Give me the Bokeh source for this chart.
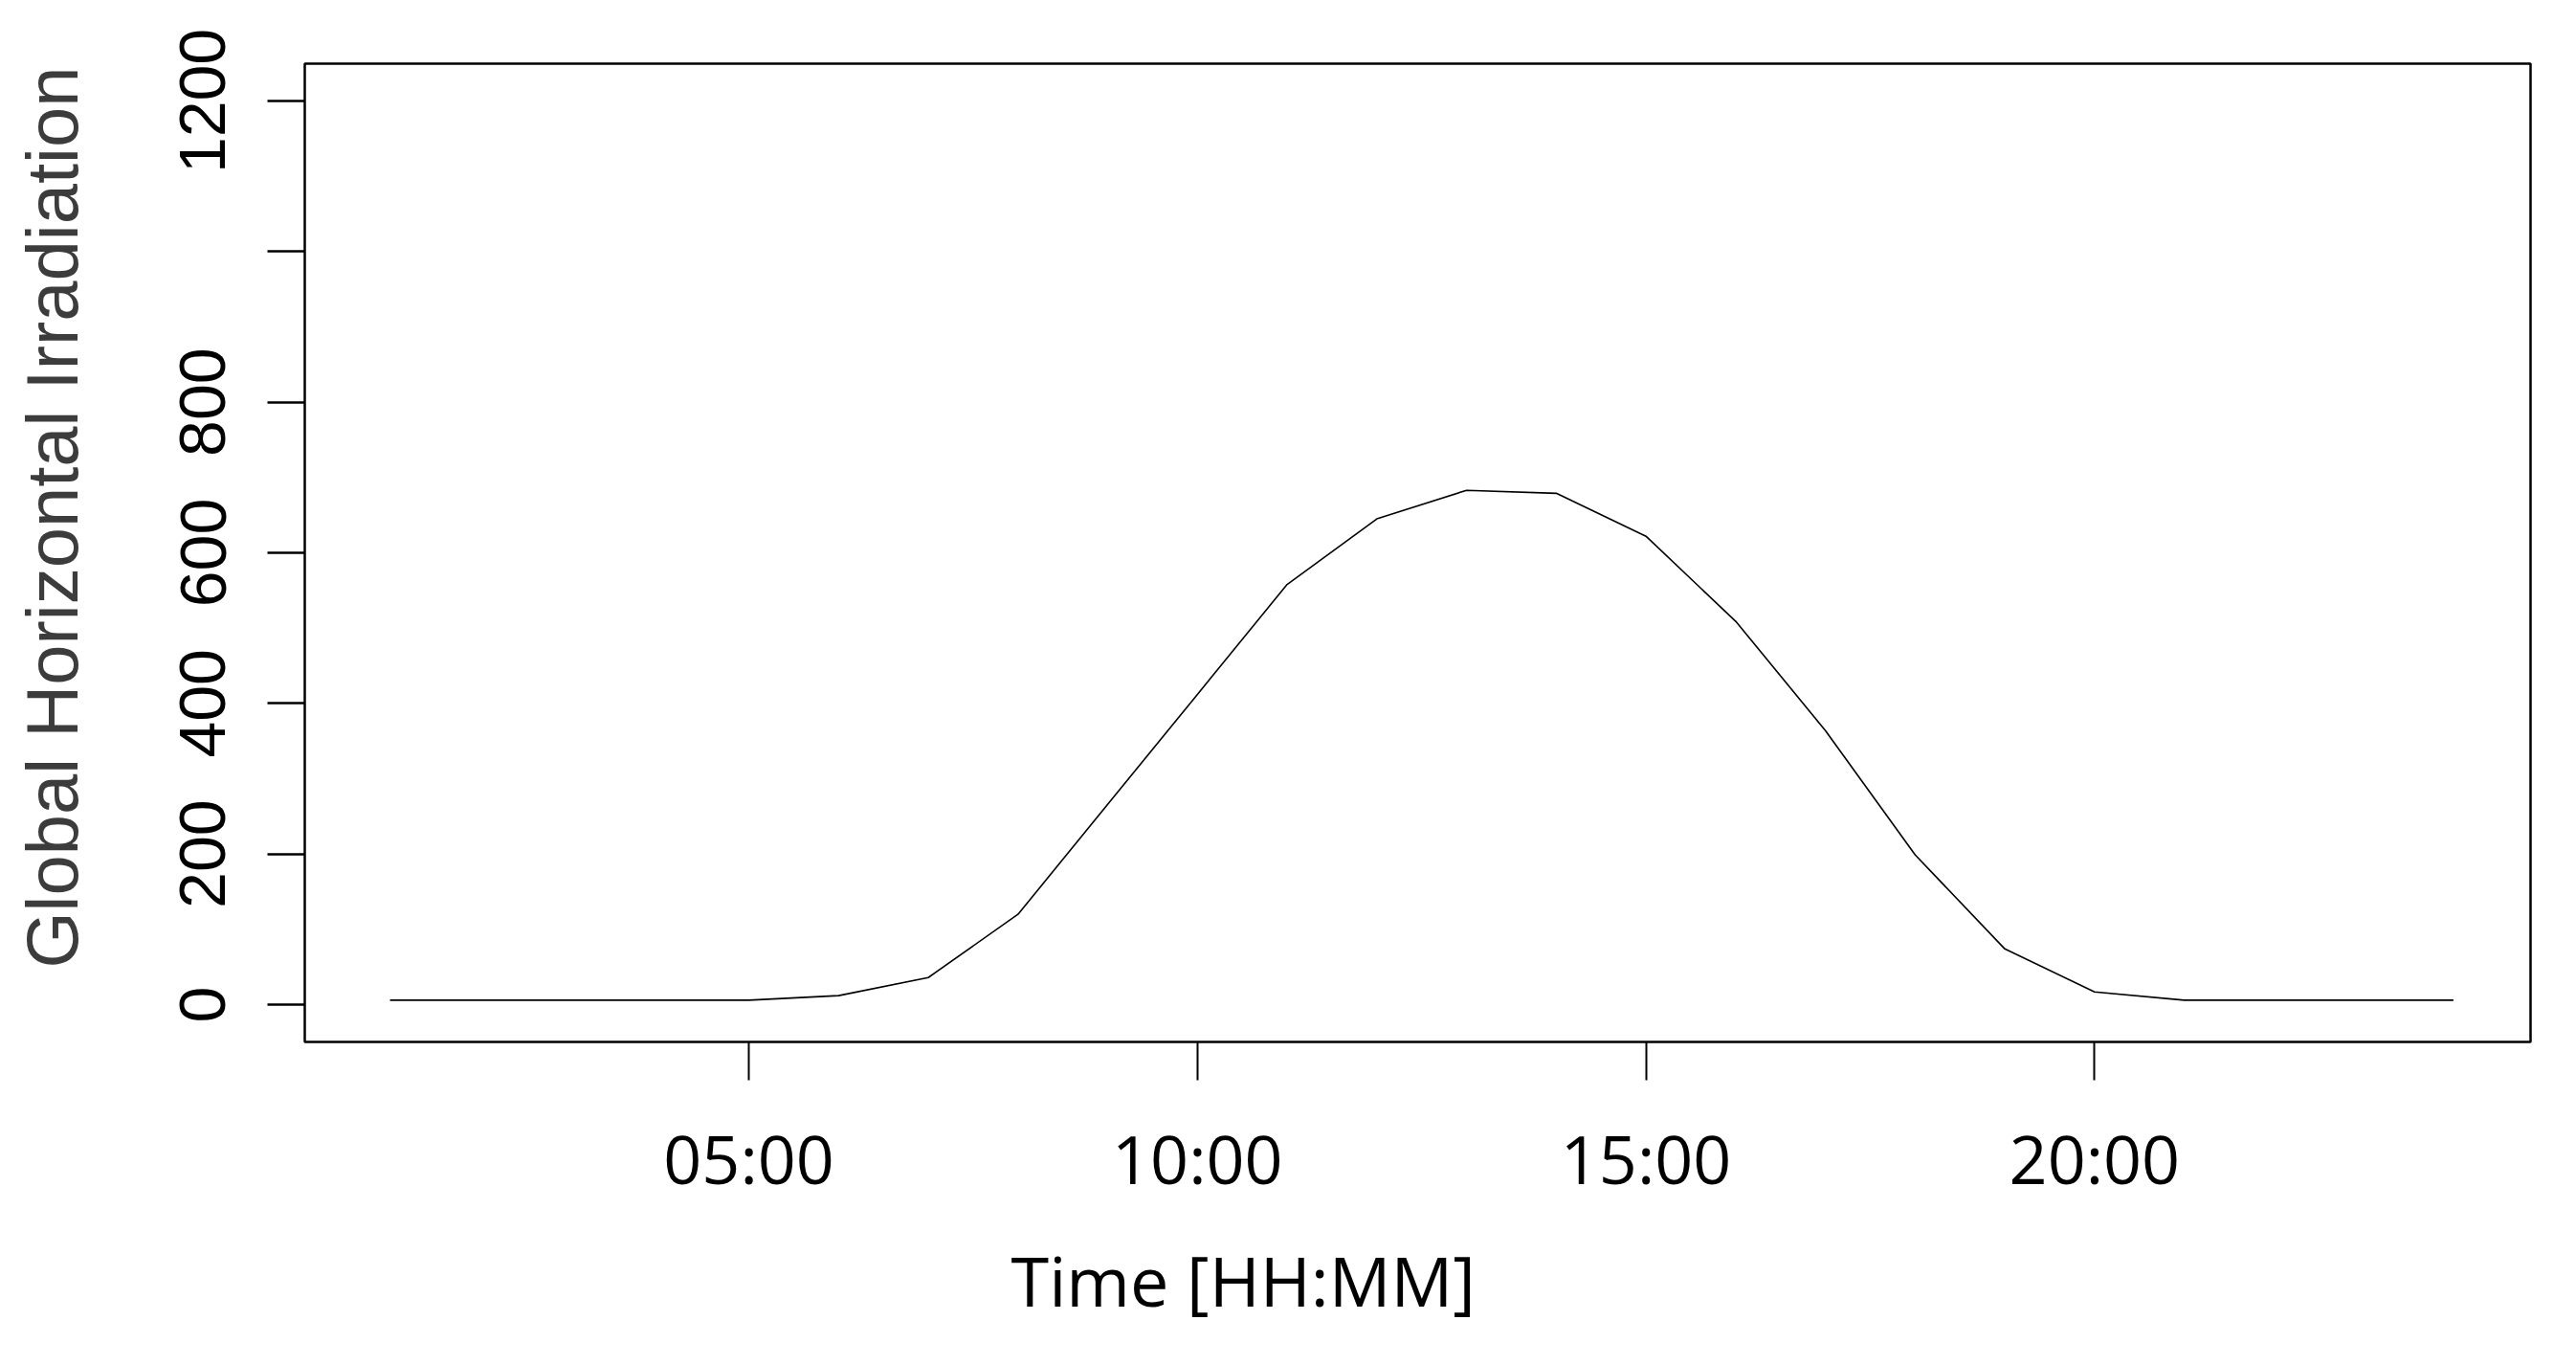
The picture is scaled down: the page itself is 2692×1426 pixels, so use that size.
from bokeh.plotting import figure
from bokeh.models import Range1d, FixedTicker, Title, LinearAxis
from bokeh.embed import file_html
from bokeh.resources import INLINE

# ---- data ----
hours = list(range(1, 25))
ghi = [6, 6, 6, 6, 6, 12, 36, 120, 266, 412, 558, 645,
       683, 679, 622, 509, 364, 199, 74, 17, 6, 6, 6, 6]
x_ticks = [5, 10, 15, 20]
x_tick_labels = ["05:00", "10:00", "15:00", "20:00"]
y_ticks = [0, 200, 400, 600, 800, 1000, 1200]
y_tick_labels = ["0", "200", "400", "600", "800", "", "1200"]
x_title = "Time [HH:MM]"
y_title = "Global Horizontal Irradiation"

p = figure(width=2684, height=1410,
           x_range=Range1d(0.05, 24.86), y_range=Range1d(-49.5, 1249.5),
           output_backend="svg", toolbar_location=None,
           min_border_left=318, min_border_right=40,
           min_border_top=66, min_border_bottom=320)
p.grid.visible = False
p.background_fill_color = "white"
p.border_fill_color = "white"
p.outline_line_color = "black"
p.outline_line_width = 2.5

p.line(hours, ghi, line_color="black", line_width=1.6)

# x axis
xa = p.xaxis[0]
xa.ticker = FixedTicker(ticks=x_ticks, minor_ticks=[])
xa.major_label_overrides = {t: l for t, l in zip(x_ticks, x_tick_labels)}
xa.axis_line_color = None
xa.major_tick_in = 0
xa.major_tick_out = 40
xa.major_tick_line_width = 2
xa.major_tick_line_color = "black"
xa.minor_tick_line_color = None
xa.major_label_text_font = "Open Sans"
xa.major_label_text_font_size = "70px"
xa.major_label_text_color = "black"
xa.major_label_standoff = 33

# y axis
ya = p.yaxis[0]
ya.ticker = FixedTicker(ticks=y_ticks, minor_ticks=[])
ya.major_label_overrides = {t: l for t, l in zip(y_ticks, y_tick_labels)}
ya.axis_line_color = None
ya.major_tick_in = 0
ya.major_tick_out = 39
ya.major_tick_line_width = 2.5
ya.major_tick_line_color = "black"
ya.minor_tick_line_color = None
ya.major_label_orientation = "vertical"
ya.major_label_text_font = "Liberation Sans"
ya.major_label_text_font_size = "68px"
ya.major_label_text_color = "black"
ya.major_label_standoff = 44

# invisible spacer axis (one hidden tick) that pushes the y title outward
spacer = LinearAxis(ticker=FixedTicker(ticks=[y_ticks[0]], minor_ticks=[]),
                    major_label_overrides={y_ticks[0]: ""},
                    axis_line_color=None, major_tick_line_color=None,
                    minor_tick_line_color=None, major_tick_in=0,
                    major_tick_out=89, major_label_standoff=0)
p.add_layout(spacer, "left")

# axis titles as side titles (off-centre as in the original)
p.add_layout(Title(text=x_title, text_font="Open Sans", text_font_size="72px",
                   text_font_style="normal", text_color="black",
                   align="left", offset=738, standoff=50), "below")
p.add_layout(Title(text=y_title, text_font="Liberation Sans", text_font_size="76px",
                   text_font_style="normal", text_color="#3c3c3c",
                   align="left", offset=77, standoff=0), "left")

open("out.html", "w").write(file_html(p, INLINE))
